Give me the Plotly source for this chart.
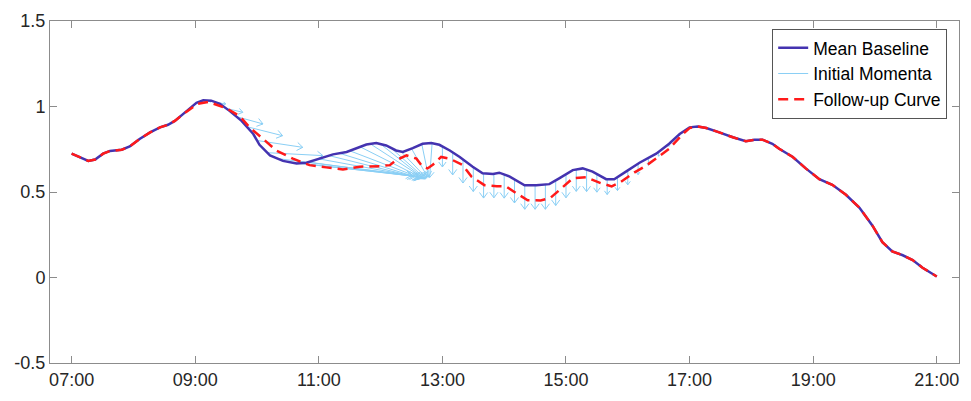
import numpy as np
import plotly.graph_objects as go

# ---------------- data ----------------
x_tick_vals = [7, 9, 11, 13, 15, 17, 19, 21]
x_tick_text = ["07:00", "09:00", "11:00", "13:00", "15:00", "17:00", "19:00", "21:00"]
y_tick_vals = [-0.5, 0, 0.5, 1, 1.5]
y_tick_text = ["-0.5", "0", "0.5", "1", "1.5"]

# Mean baseline (time in hours, value)
base_t = [7.00, 7.27, 7.38, 7.51, 7.62, 7.81, 7.94, 8.10, 8.27, 8.43, 8.56, 8.67, 8.86,
          9.02, 9.13, 9.26, 9.40, 9.56, 9.75, 9.94, 10.04, 10.21, 10.42, 10.64, 10.80,
          11.01, 11.23, 11.45, 11.61, 11.77, 11.93, 12.09, 12.25, 12.36, 12.52, 12.68,
          12.82, 12.95, 13.12, 13.28, 13.49, 13.65, 13.82, 13.92, 14.09, 14.33, 14.52,
          14.73, 14.89, 15.11, 15.27, 15.43, 15.65, 15.78, 15.97, 16.19, 16.46, 16.67,
          16.84, 17.00, 17.13, 17.27, 17.48, 17.70, 17.91, 18.05, 18.18, 18.34, 18.45,
          18.67, 18.88, 19.10, 19.31, 19.53, 19.75, 19.96, 20.12, 20.28, 20.45, 20.61,
          20.77, 21.00]
base_v = [0.724, 0.682, 0.690, 0.724, 0.740, 0.747, 0.766, 0.810, 0.849, 0.878, 0.893, 0.916, 0.973,
          1.021, 1.036, 1.034, 1.016, 0.973, 0.916, 0.839, 0.776, 0.714, 0.682, 0.667, 0.671,
          0.695, 0.720, 0.734, 0.757, 0.778, 0.787, 0.772, 0.743, 0.734, 0.757, 0.782,
          0.787, 0.776, 0.743, 0.705, 0.648, 0.609, 0.605, 0.613, 0.590, 0.539, 0.539,
          0.546, 0.580, 0.628, 0.638, 0.619, 0.575, 0.575, 0.619, 0.671, 0.724, 0.782,
          0.839, 0.878, 0.883, 0.874, 0.849, 0.820, 0.797, 0.805, 0.806, 0.782, 0.753,
          0.705, 0.638, 0.575, 0.542, 0.484, 0.408, 0.303, 0.207, 0.153, 0.130, 0.102,
          0.057, 0.006]

# Follow-up curve
follow_t = [7.00, 7.27, 7.38, 7.51, 7.62, 7.81, 7.94, 8.10, 8.27, 8.43, 8.56, 8.67, 8.86,
            9.04, 9.21, 9.51, 9.72, 9.88, 10.10, 10.31, 10.58, 10.85, 11.12, 11.39, 11.66,
            11.98, 12.15, 12.25, 12.42, 12.58, 12.68, 12.76, 12.85, 12.98, 13.12, 13.33,
            13.47, 13.68, 13.88, 14.03, 14.19, 14.38, 14.59, 14.75, 14.95, 15.11, 15.33,
            15.56, 15.74, 15.88, 16.11, 16.30, 16.48, 16.67, 16.89, 17.00, 17.13, 17.27,
            17.48, 17.70, 17.91, 18.05, 18.18, 18.34, 18.45, 18.67, 18.88, 19.10, 19.31,
            19.53, 19.75, 19.96, 20.12, 20.28, 20.45, 20.61, 20.77, 21.00]
follow_v = [0.724, 0.682, 0.690, 0.724, 0.740, 0.747, 0.766, 0.810, 0.849, 0.878, 0.893, 0.916, 0.970,
            1.016, 1.027, 0.989, 0.944, 0.878, 0.810, 0.743, 0.695, 0.657, 0.644, 0.632, 0.648,
            0.651, 0.657, 0.686, 0.714, 0.695, 0.648, 0.638, 0.661, 0.705, 0.695, 0.657,
            0.590, 0.540, 0.534, 0.533, 0.494, 0.452, 0.451, 0.466, 0.529, 0.580, 0.586,
            0.552, 0.533, 0.557, 0.615, 0.655, 0.701, 0.753, 0.839, 0.874, 0.883, 0.874,
            0.849, 0.820, 0.797, 0.805, 0.806, 0.782, 0.753, 0.705, 0.638, 0.575, 0.542,
            0.484, 0.408, 0.303, 0.207, 0.153, 0.130, 0.102, 0.057, 0.006]

# Initial momenta: anchor time on the baseline, shift in time (h) and value
mom_t = [9 + 10/60, 9 + 20/60, 9 + 30/60, 9 + 40/60, 9 + 50/60,
         10.0, 10 + 10/60, 10 + 20/60, 10 + 30/60, 10 + 40/60, 10 + 50/60,
         11.0, 11 + 10/60, 11 + 20/60, 11 + 30/60, 11 + 40/60, 11 + 50/60,
         12.0, 12 + 10/60, 12 + 20/60, 12 + 30/60, 12 + 40/60, 12 + 50/60,
         13.0, 13 + 10/60, 13 + 20/60, 13 + 30/60, 13 + 40/60, 13 + 50/60,
         14.0, 14 + 10/60, 14 + 20/60, 14 + 30/60, 14 + 40/60, 14 + 50/60,
         15.0, 15 + 10/60, 15 + 20/60, 15 + 30/60, 15 + 40/60, 15 + 50/60,
         16.0, 16 + 10/60, 16 + 20/60, 16 + 30/60, 16 + 40/60, 16 + 50/60, 17.0]
mom_dt = [0.10, 0.16, 0.27, 0.43, 0.58, 0.74, 0.90,
          2.17, 2.03, 1.90, 1.77, 1.62, 1.47, 1.31, 1.16, 1.01, 0.86,
          0.71, 0.56, 0.41, 0.26, 0.11, -0.04,
          0.0, 0.0, 0.0, 0.0, 0.0, 0.0,
          0.0, 0.0, 0.0, 0.0, 0.0, 0.0,
          0.0, 0.0, 0.0, 0.0, 0.0, 0.0,
          0.0, 0.0, 0.0, 0.0, 0.0, 0.0, 0.0]
mom_dv = [-0.005, -0.010, -0.023, -0.043, -0.053, -0.040, -0.017,
          -0.098, -0.084, -0.075, -0.087, -0.107, -0.132, -0.147, -0.161, -0.184, -0.201,
          -0.204, -0.181, -0.155, -0.167, -0.193, -0.201,
          -0.120, -0.132, -0.138, -0.143, -0.144, -0.140,
          -0.138, -0.138, -0.140, -0.140, -0.145, -0.147,
          -0.138, -0.128, -0.128, -0.106, -0.090, -0.079,
          -0.084, -0.064, -0.043, -0.026, -0.014, -0.009, -0.003]

# ---------------- layout constants ----------------
W, H = 971, 401
M_L, M_R, M_T, M_B = 50, 11, 15, 38
X_RANGE = [6.65, 21.36]
Y_RANGE = [-0.5, 1.5]
sx = (W - M_L - M_R) / (X_RANGE[1] - X_RANGE[0])   # px per hour
sy = (H - M_T - M_B) / (Y_RANGE[1] - Y_RANGE[0])   # px per unit

BLUE = "#4433B0"
RED = "#FF1A1A"
ARROW = "#8ACFF5"
AXIS = "#8c8c8c"
TXT = "#262626"
FONT = "Liberation Sans, Arial, Helvetica, sans-serif"

# ---------------- build arrow geometry (quiver style) ----------------
ax_x, ax_y = [], []
ang = np.deg2rad(36)
for t0, dt, dv in zip(mom_t, mom_dt, mom_dv):
    v0 = float(np.interp(t0, base_t, base_v))
    t1, v1 = t0 + dt, v0 + dv
    ax_x += [t0, t1, None]
    ax_y += [v0, v1, None]
    px, py = dt * sx, dv * sy
    L = float(np.hypot(px, py))
    if L <= 0:
        continue
    hl = min(7.0, 0.3 * L)
    ux, uy = -px / L, -py / L
    pts = []
    for a in (ang, -ang):
        bx = ux * np.cos(a) - uy * np.sin(a)
        by = ux * np.sin(a) + uy * np.cos(a)
        pts.append((t1 + hl * bx / sx, v1 + hl * by / sy))
    ax_x += [pts[0][0], t1, pts[1][0], None]
    ax_y += [pts[0][1], v1, pts[1][1], None]

fig = go.Figure()
fig.add_trace(go.Scatter(x=ax_x, y=ax_y, mode="lines", name="Initial Momenta",
                         line=dict(color=ARROW, width=1), legendrank=2,
                         connectgaps=False, hoverinfo="skip"))
fig.add_trace(go.Scatter(x=base_t, y=base_v, mode="lines", name="Mean Baseline",
                         line=dict(color=BLUE, width=2.5), legendrank=1))
fig.add_trace(go.Scatter(x=follow_t, y=follow_v, mode="lines", name="Follow-up Curve",
                         line=dict(color=RED, width=2.5, dash="10px,6px"), legendrank=3))

axis_common = dict(showgrid=False, zeroline=False, showline=True, linecolor=AXIS,
                   linewidth=1, mirror="ticks", ticks="inside", ticklen=7,
                   tickcolor=AXIS, tickwidth=1,
                   tickfont=dict(family=FONT, size=18, color=TXT))
fig.update_xaxes(range=X_RANGE, tickvals=x_tick_vals, ticktext=x_tick_text, **axis_common)
fig.update_yaxes(range=Y_RANGE, tickvals=y_tick_vals, ticktext=y_tick_text, **axis_common)

fig.update_layout(
    width=W, height=H,
    margin=dict(l=M_L, r=M_R, t=M_T, b=M_B, pad=0),
    paper_bgcolor="white", plot_bgcolor="white",
    font=dict(family=FONT, color=TXT),
    legend=dict(x=0.987, y=0.977, xanchor="right", yanchor="top",
                bgcolor="white", bordercolor="#555555", borderwidth=1,
                font=dict(family=FONT, size=17.5, color="black"),
                tracegroupgap=0, itemwidth=30),
    showlegend=True,
)

fig.write_html("out.html")
